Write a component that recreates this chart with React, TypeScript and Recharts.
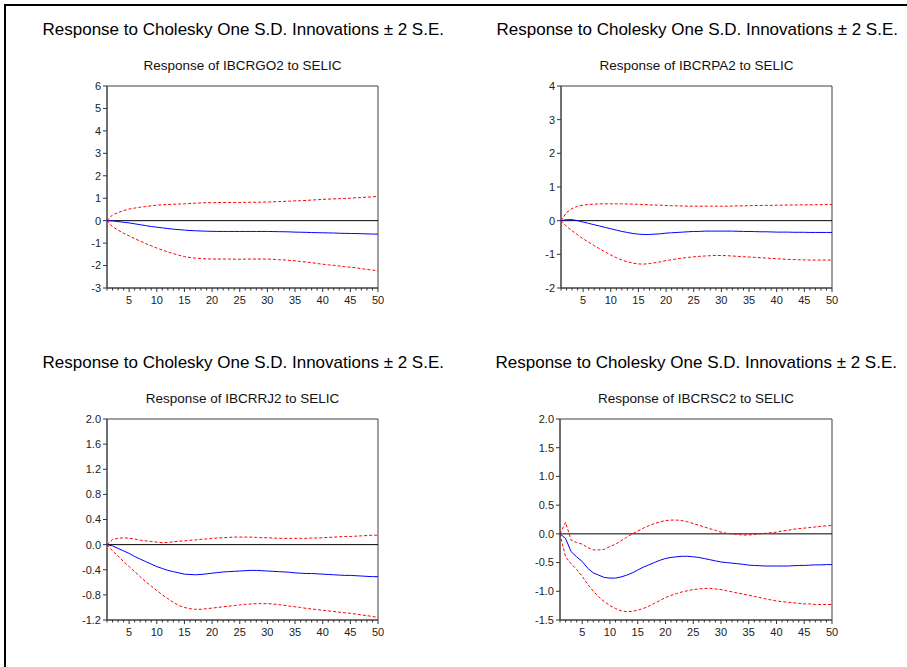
import React from "react";
import {
  LineChart,
  Line,
  XAxis,
  YAxis,
  ReferenceLine,
  ReferenceArea,
} from "recharts";

const FONT = '"Liberation Sans", Arial, Helvetica, sans-serif';
const HEADER = "Response to Cholesky One S.D. Innovations \u00b1 2 S.E.";

// periods 1..50 (x categories)
const periods = Array.from({ length: 50 }, (_, i) => i + 1);

// Response of IBCRGO2 to SELIC
const goResp = [
  0, -0.01, -0.04, -0.07, -0.1, -0.14, -0.18, -0.22, -0.26, -0.29,
  -0.32, -0.35, -0.38, -0.4, -0.42, -0.44, -0.45, -0.46, -0.47, -0.475,
  -0.48, -0.48, -0.48, -0.48, -0.48, -0.48, -0.48, -0.48, -0.48, -0.48,
  -0.485, -0.49, -0.495, -0.5, -0.51, -0.515, -0.52, -0.53, -0.535, -0.54,
  -0.545, -0.55, -0.56, -0.565, -0.57, -0.575, -0.58, -0.59, -0.595, -0.6,
];
const goUpper = [
  0, 0.26, 0.36, 0.45, 0.52, 0.56, 0.6, 0.63, 0.66, 0.69,
  0.71, 0.72, 0.73, 0.74, 0.75, 0.765, 0.78, 0.79, 0.8, 0.8,
  0.805, 0.81, 0.81, 0.81, 0.81, 0.815, 0.82, 0.82, 0.825, 0.83,
  0.84, 0.85, 0.86, 0.87, 0.88, 0.89, 0.9, 0.92, 0.93, 0.95,
  0.96, 0.97, 0.98, 0.99, 1.0, 1.02, 1.03, 1.05, 1.06, 1.08,
];
const goLower = [
  0, -0.27, -0.42, -0.56, -0.68, -0.8, -0.91, -1.02, -1.12, -1.22,
  -1.31, -1.39, -1.47, -1.54, -1.6, -1.64, -1.67, -1.69, -1.7, -1.71,
  -1.71, -1.71, -1.71, -1.715, -1.72, -1.715, -1.71, -1.71, -1.71, -1.71,
  -1.72, -1.74, -1.75, -1.77, -1.79, -1.82, -1.84, -1.87, -1.91, -1.94,
  -1.97, -1.99, -2.02, -2.05, -2.07, -2.1, -2.14, -2.17, -2.2, -2.24,
];

// Response of IBCRPA2 to SELIC
const paResp = [
  0, 0.03, 0.03, 0.0, -0.04, -0.08, -0.12, -0.16, -0.2, -0.24,
  -0.28, -0.32, -0.35, -0.38, -0.4, -0.41, -0.41, -0.4, -0.39, -0.37,
  -0.36, -0.35, -0.34, -0.33, -0.32, -0.32, -0.31, -0.31, -0.31, -0.31,
  -0.31, -0.31, -0.315, -0.32, -0.32, -0.325, -0.33, -0.33, -0.335, -0.34,
  -0.34, -0.34, -0.345, -0.345, -0.345, -0.35, -0.35, -0.35, -0.35, -0.35,
];
const paUpper = [
  0, 0.24, 0.36, 0.43, 0.46, 0.48, 0.49, 0.5, 0.5, 0.5,
  0.5, 0.5, 0.495, 0.49, 0.485, 0.48, 0.47, 0.465, 0.46, 0.45,
  0.445, 0.44, 0.435, 0.43, 0.43, 0.43, 0.43, 0.43, 0.43, 0.43,
  0.43, 0.435, 0.44, 0.44, 0.445, 0.45, 0.45, 0.455, 0.455, 0.46,
  0.46, 0.465, 0.465, 0.47, 0.47, 0.47, 0.475, 0.475, 0.48, 0.48,
];
const paLower = [
  0, -0.17, -0.3, -0.42, -0.54, -0.64, -0.74, -0.84, -0.93, -1.02,
  -1.1, -1.17, -1.22, -1.26, -1.285, -1.29, -1.275, -1.25, -1.22, -1.185,
  -1.16, -1.13, -1.11, -1.09, -1.075, -1.06, -1.05, -1.04, -1.035, -1.035,
  -1.04, -1.05, -1.06, -1.07, -1.08, -1.09, -1.1, -1.11, -1.12, -1.13,
  -1.14, -1.15, -1.155, -1.16, -1.165, -1.17, -1.17, -1.17, -1.17, -1.17,
];

// Response of IBCRRJ2 to SELIC
const rjResp = [
  0, -0.02, -0.06, -0.1, -0.14, -0.19, -0.23, -0.27, -0.31, -0.35,
  -0.38, -0.41, -0.43, -0.45, -0.47, -0.475, -0.48, -0.475, -0.465, -0.455,
  -0.445, -0.435, -0.43, -0.425, -0.42, -0.415, -0.41, -0.41, -0.415, -0.42,
  -0.425, -0.43, -0.435, -0.44, -0.45, -0.455, -0.46, -0.46, -0.465, -0.47,
  -0.475, -0.48, -0.485, -0.49, -0.49, -0.495, -0.5, -0.505, -0.51, -0.51,
];
const rjUpper = [
  0, 0.08, 0.1, 0.11, 0.1, 0.09, 0.07, 0.06, 0.05, 0.04,
  0.03, 0.035, 0.045, 0.055, 0.06, 0.07, 0.075, 0.085, 0.09, 0.1,
  0.105, 0.11, 0.115, 0.12, 0.12, 0.12, 0.12, 0.115, 0.11, 0.11,
  0.105, 0.1, 0.1, 0.1, 0.1, 0.1, 0.1, 0.105, 0.105, 0.11,
  0.115, 0.12, 0.125, 0.13, 0.13, 0.135, 0.14, 0.145, 0.15, 0.15,
];
const rjLower = [
  0, -0.1, -0.18, -0.27, -0.35, -0.43, -0.51, -0.59, -0.66, -0.73,
  -0.8, -0.86, -0.92, -0.97, -1.0, -1.02, -1.03, -1.03, -1.02, -1.01,
  -1.0, -0.99, -0.98, -0.97, -0.96, -0.95, -0.945, -0.94, -0.94, -0.94,
  -0.945, -0.955, -0.965, -0.98, -0.99, -1.0, -1.015, -1.025, -1.035, -1.045,
  -1.055, -1.065, -1.075, -1.085, -1.095, -1.105, -1.12, -1.13, -1.145, -1.16,
];

// Response of IBCRSC2 to SELIC
const scResp = [
  0, -0.08, -0.31, -0.4, -0.48, -0.6, -0.68, -0.72, -0.76, -0.77,
  -0.77, -0.75, -0.72, -0.68, -0.63, -0.58, -0.54, -0.5, -0.46, -0.43,
  -0.41, -0.4, -0.39, -0.39, -0.4, -0.41, -0.43, -0.45, -0.47, -0.49,
  -0.5, -0.51, -0.52, -0.53, -0.545, -0.55, -0.555, -0.56, -0.56, -0.56,
  -0.56, -0.56, -0.555, -0.55, -0.55, -0.545, -0.54, -0.54, -0.535, -0.535,
];
const scUpper = [
  0, 0.2, -0.11, -0.15, -0.18, -0.24, -0.28, -0.28, -0.27, -0.22,
  -0.18, -0.12, -0.06, 0.0, 0.05, 0.1, 0.14, 0.18, 0.21, 0.23,
  0.24, 0.24, 0.23, 0.21, 0.18, 0.15, 0.12, 0.09, 0.06, 0.03,
  0.01, 0.0, -0.01, -0.02, -0.02, -0.01, 0.0, 0.01, 0.02, 0.03,
  0.05, 0.06, 0.08, 0.09, 0.1, 0.11, 0.12, 0.13, 0.14, 0.145,
];
const scLower = [
  0, -0.4, -0.52, -0.62, -0.74, -0.88, -1.0, -1.1, -1.18, -1.25,
  -1.3, -1.34, -1.355, -1.35, -1.33, -1.3, -1.26, -1.21, -1.16, -1.11,
  -1.07, -1.04, -1.01, -0.99, -0.97, -0.96, -0.95, -0.95, -0.96, -0.97,
  -0.99, -1.01, -1.03, -1.05, -1.07, -1.09, -1.11, -1.13, -1.15, -1.17,
  -1.18, -1.19, -1.2, -1.21, -1.22, -1.22, -1.23, -1.23, -1.23, -1.23,
];

// y tick labels
const goTicks = [-3, -2, -1, 0, 1, 2, 3, 4, 5, 6];
const paTicks = [-2, -1, 0, 1, 2, 3, 4];
const rjTicks = [-1.2, -0.8, -0.4, 0.0, 0.4, 0.8, 1.2, 1.6, 2.0];
const scTicks = [-1.5, -1.0, -0.5, 0.0, 0.5, 1.0, 1.5, 2.0];

const Y_AXIS_W = 44;
const M = { top: 6, right: 6, left: 0, bottom: 4 };
const X_AXIS_H = 24;

function XTick(props: any) {
  const { x, y, payload } = props;
  const v = payload.value;
  const major = v % 5 === 0;
  return (
    <g>
      <line x1={x} x2={x} y1={y} y2={y + (major ? 4 : 2.5)} stroke="#333" />
      {major && (
        <text
          x={x}
          y={y + 8}
          dy="0.71em"
          textAnchor="middle"
          fontSize={11}
          fill="#222"
          fontFamily={FONT}
        >
          {v}
        </text>
      )}
    </g>
  );
}

interface PanelProps {
  header: string;
  title: string;
  resp: number[];
  upper: number[];
  lower: number[];
  yTicks: number[];
  decimals: number;
  plotLeft: number;
  plotTop: number;
  plotW: number;
  plotH: number;
}

function Panel({
  header,
  title,
  resp,
  upper,
  lower,
  yTicks,
  decimals,
  plotLeft,
  plotTop,
  plotW,
  plotH,
}: PanelProps) {
  const data = periods.map((p, i) => ({
    p,
    resp: resp[i],
    upper: upper[i],
    lower: lower[i],
  }));
  const yMin = yTicks[0];
  const yMax = yTicks[yTicks.length - 1];
  const width = Y_AXIS_W + plotW + M.right;
  const height = M.top + plotH + X_AXIS_H + M.bottom;

  return (
    <>
      <div
        style={{
          position: "absolute",
          left: plotLeft - 64.5,
          top: plotTop - 65.4,
          fontSize: 17,
          lineHeight: "17px",
          whiteSpace: "nowrap",
          color: "#000",
        }}
      >
        {header}
      </div>
      <div
        style={{
          position: "absolute",
          left: plotLeft - 40,
          width: plotW + 80,
          top: plotTop - 26.7,
          fontSize: 13.5,
          lineHeight: "13.5px",
          textAlign: "center",
          whiteSpace: "nowrap",
          color: "#111",
        }}
      >
        {title}
      </div>
      <div
        style={{
          position: "absolute",
          left: plotLeft - Y_AXIS_W,
          top: plotTop - M.top,
        }}
      >
        <LineChart width={width} height={height} data={data} margin={M}>
          <XAxis
            type="number"
            dataKey="p"
            domain={[1, 50]}
            ticks={periods}
            interval={0}
            allowDataOverflow
            tickSize={0}
            tickMargin={0}
            tick={<XTick />}
            height={X_AXIS_H}
            axisLine={{ stroke: "#404040" }}
          />
          <YAxis
            type="number"
            domain={[yMin, yMax]}
            ticks={yTicks}
            interval={0}
            allowDataOverflow
            width={Y_AXIS_W}
            tickSize={4}
            tickMargin={2}
            tickLine={{ stroke: "#333" }}
            axisLine={{ stroke: "#404040" }}
            tick={{ fontSize: 11, fill: "#222", fontFamily: FONT }}
            tickFormatter={(v: number) => v.toFixed(decimals)}
          />
          <ReferenceArea
            x1={1}
            x2={50}
            y1={yMin}
            y2={yMax}
            fill="none"
            stroke="#404040"
            strokeWidth={1}
            ifOverflow="visible"
          />
          <ReferenceLine y={0} stroke="#000" strokeWidth={1} />
          <Line
            type="linear"
            dataKey="upper"
            stroke="#ff0000"
            strokeWidth={1}
            strokeDasharray="3 2"
            dot={false}
            isAnimationActive={false}
          />
          <Line
            type="linear"
            dataKey="lower"
            stroke="#ff0000"
            strokeWidth={1}
            strokeDasharray="3 2"
            dot={false}
            isAnimationActive={false}
          />
          <Line
            type="linear"
            dataKey="resp"
            stroke="#0000ff"
            strokeWidth={1}
            dot={false}
            isAnimationActive={false}
          />
        </LineChart>
      </div>
    </>
  );
}

export default function App() {
  return (
    <div
      style={{
        position: "absolute",
        left: 0,
        top: 0,
        width: 907,
        height: 667,
        overflow: "hidden",
        background: "#fff",
        fontFamily: FONT,
      }}
    >
      <div
        style={{
          position: "absolute",
          left: 4,
          top: 4,
          width: 1200,
          height: 1200,
          borderLeft: "2px solid #000",
          borderTop: "2px solid #000",
        }}
      />
      <Panel
        header={HEADER}
        title="Response of IBCRGO2 to SELIC"
        resp={goResp}
        upper={goUpper}
        lower={goLower}
        yTicks={goTicks}
        decimals={0}
        plotLeft={107}
        plotTop={86}
        plotW={271}
        plotH={202}
      />
      <Panel
        header={HEADER}
        title="Response of IBCRPA2 to SELIC"
        resp={paResp}
        upper={paUpper}
        lower={paLower}
        yTicks={paTicks}
        decimals={0}
        plotLeft={561}
        plotTop={86}
        plotW={271}
        plotH={202}
      />
      <Panel
        header={HEADER}
        title="Response of IBCRRJ2 to SELIC"
        resp={rjResp}
        upper={rjUpper}
        lower={rjLower}
        yTicks={rjTicks}
        decimals={1}
        plotLeft={107}
        plotTop={419}
        plotW={271}
        plotH={201}
      />
      <Panel
        header={HEADER}
        title="Response of IBCRSC2 to SELIC"
        resp={scResp}
        upper={scUpper}
        lower={scLower}
        yTicks={scTicks}
        decimals={1}
        plotLeft={560}
        plotTop={419}
        plotW={272}
        plotH={201}
      />
    </div>
  );
}
